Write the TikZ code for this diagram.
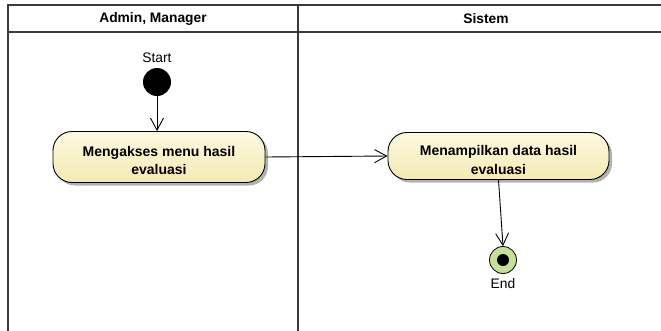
\documentclass[tikz,border=0pt]{standalone}
\usepackage{fontspec}
\setmainfont{Liberation Sans}
\usetikzlibrary{arrows.meta,shadows}
\definecolor{laneline}{HTML}{3A3A3A}
\definecolor{acttop}{HTML}{FCF9E2}
\definecolor{actbot}{HTML}{F4EAB2}
\definecolor{endfill}{HTML}{C6E09A}
\tikzset{
  lane/.style={draw=laneline, line width=1.6pt},
  lanetitle/.style={font=\fontsize{13.8}{15}\selectfont\bfseries},
  action/.style={draw=black, line width=0.9pt, rounded corners=19pt,
    top color=acttop, bottom color=actbot, inner sep=0pt,
    drop shadow={shadow xshift=3pt, shadow yshift=-3pt, opacity=0.3, fill=black}},
  acttext/.style={align=center, font=\fontsize{14}{18.5}\selectfont\bfseries, inner sep=0pt},
  initial/.style={circle, fill=black, minimum size=28pt, inner sep=0pt},
  final/.style={circle, draw=black, line width=0.8pt, fill=endfill, minimum size=27pt, inner sep=0pt},
  label/.style={font=\fontsize{13.8}{15}\selectfont},
  flow/.style={draw=black, line width=0.9pt, -{Straight Barb[length=12pt,width=13pt,line width=0.9pt]}}
}
\begin{document}
\begin{tikzpicture}[x=1pt,y=-1pt]
\useasboundingbox (0,0) rectangle (661,330);
\fill[white] (0,0) rectangle (661,330);
% swimlane frame
\begin{scope}
\clip (0,0) rectangle (661,330);
\draw[lane] (8,5) rectangle (674,345);
\draw[lane] (8,32) -- (674,32);
\draw[lane] (298,5) -- (298,345);
\end{scope}
\node[lanetitle] (lane1) at (153,18.5) {Admin, Manager};
\node[lanetitle] (lane2) at (486,18.5) {Sistem};
% activity nodes
\node[initial] (start) at (157,82) {};
\node[label, anchor=base] (startlbl) at (157,62) {Start};
\node[action, minimum width=212pt, minimum height=51pt] (a1) at (159,157) {};
\node[acttext] (a1text) at ([yshift=-3.5pt]a1.center) {Mengakses menu hasil\\evaluasi};
\node[action, minimum width=221pt, minimum height=47pt] (a2) at (498.5,156) {};
\node[acttext] (a2text) at ([yshift=-4pt]a2.center) {Menampilkan data hasil\\evaluasi};
\node[final] (end) at (503,260) {};
\fill[black] (end.center) circle (6pt);
\node[label, anchor=base] (endlbl) at (503,288) {End};
% control flows
\draw[flow] (start.south) -- (start.south |- a1.north);
\draw[flow] (a1.east) -- (a2.west);
\draw[flow] (a2.south) -- (end.north);
\end{tikzpicture}
\end{document}
